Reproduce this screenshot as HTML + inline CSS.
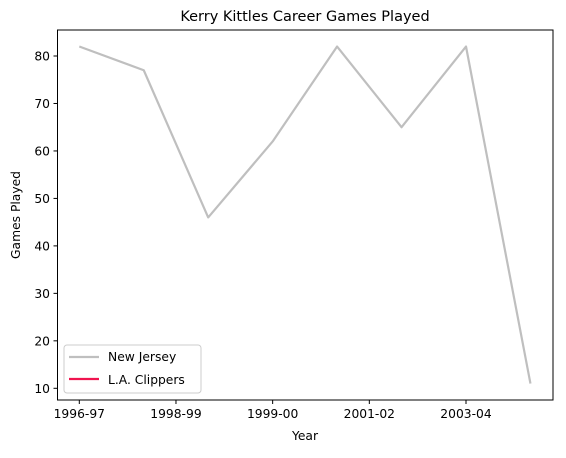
<!DOCTYPE html>
<html><head><meta charset="utf-8"><style>
body{margin:0;background:#fff;font-family:"Liberation Sans","DejaVu Sans",sans-serif}
</style></head><body>
<svg width="566" height="453" xmlns="http://www.w3.org/2000/svg" font-family="DejaVu Sans, Liberation Sans, sans-serif">
<text x="305" y="21" text-anchor="middle" font-size="14.5">Kerry Kittles Career Games Played</text>
<g id="yticks"></g>
<g id="xticks"></g>
<polyline id="nj" fill="none" stroke="#bfbfbf" stroke-width="2.2" stroke-linejoin="round"/>
<rect x="57.5" y="30" width="495.5" height="370" fill="none" stroke="#000" stroke-width="1"/>
<text x="305" y="440" text-anchor="middle" font-size="12.3">Year</text>
<text transform="translate(20,215) rotate(-90)" text-anchor="middle" font-size="12.3">Games Played</text>
<g>
<rect x="64" y="345" width="137" height="48" rx="3" fill="#fff" stroke="#ccc"/>
<line x1="69" y1="357" x2="99" y2="357" stroke="#bfbfbf" stroke-width="2.2"/>
<text x="108" y="361" font-size="12.3">New Jersey</text>
<line x1="69" y1="379" x2="99" y2="379" stroke="#f0144f" stroke-width="2.2"/>
<text x="108" y="384" font-size="12.3">L.A. Clippers</text>
</g>
</svg>
<script>
const seasons=["1996-97","1997-98","1998-99","1999-00","2000-01","2001-02","2003-04","2004-05"];
const njGames=[82,77,46,62,82,65,82,11];
const yTicks=[10,20,30,40,50,60,70,80];
const xTickPos=[0,1.5,3,4.5,6];
const xTickLabels=["1996-97","1998-99","1999-00","2001-02","2003-04"];
const NS="http://www.w3.org/2000/svg";
const xs=i=>79.3+i*64.45;
const ys=v=>388.3-(v-10)*4.747;
const yg=document.getElementById('yticks');
yTicks.forEach(t=>{
 const l=document.createElementNS(NS,'line');
 
 
 l.setAttribute('x1',53.5);l.setAttribute('x2',57.5);l.setAttribute('y1',ys(t));l.setAttribute('y2',ys(t));l.setAttribute('stroke','#000');
 yg.appendChild(l);
 const tx=document.createElementNS(NS,'text');
 
 
 tx.setAttribute('x',50);tx.setAttribute('y',ys(t)+4.5);tx.setAttribute('text-anchor','end');tx.setAttribute('font-size','12.3');
 tx.textContent=t;yg.appendChild(tx);
});
const xg=document.getElementById('xticks');
xTickPos.forEach((p,i)=>{
 const l=document.createElementNS(NS,'line');
 
 
 l.setAttribute('x1',xs(p));l.setAttribute('x2',xs(p));l.setAttribute('y1',400);l.setAttribute('y2',404);l.setAttribute('stroke','#000');
 xg.appendChild(l);
 const tx=document.createElementNS(NS,'text');
 
 
 tx.setAttribute('x',xs(p));tx.setAttribute('y',418);tx.setAttribute('text-anchor','middle');tx.setAttribute('font-size','12.3');
 tx.textContent=xTickLabels[i];xg.appendChild(tx);
});
document.getElementById('nj').setAttribute('points',njGames.map((v,i)=>xs(i)+','+ys(v)).join(' '));
</script>
</body></html>
